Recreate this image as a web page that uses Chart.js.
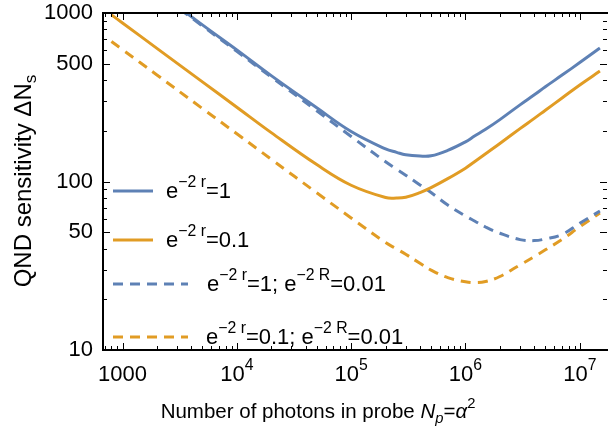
<!DOCTYPE html>
<html>
<head>
<meta charset="utf-8">
<script src="https://cdn.jsdelivr.net/npm/chart.js@4.4.1/dist/chart.umd.min.js"></script>
<style>
  html, body { margin: 0; padding: 0; background: #fff; }
  #wrap { width: 608px; height: 435px; }
</style>
</head>
<body>
<div id="wrap"><canvas id="myChart"></canvas></div>
<script>
// photons in probe N_p (x) and QND sensitivity (y)
const photons    = [800, 1000, 2000, 5000, 1e4, 2e4, 5e4, 1e5, 2e5, 2.5e5, 3e5, 4e5, 5e5, 7e5, 1e6, 1.2e6, 1.5e6, 2e6, 3e6, 4e6, 5e6, 7e6, 1e7, 1.5e7];
const sensR1     = [2136, 1910, 1351, 850, 604, 425, 274, 198, 156, 149, 144, 141.5, 142, 153, 172, 186, 204, 233, 285, 327, 365, 428, 508, 620];
const sensR01    = [975, 873, 617, 390, 276, 195, 126, 95, 80.3, 79.7, 80.6, 86, 92, 104, 120, 131, 146, 168, 206, 237, 265, 313, 374, 452];
const sensR1Big  = [2100, 1880, 1330, 838, 592, 417, 263, 185, 131, 118.4, 109, 95.4, 86, 72.5, 62.4, 58.3, 53.7, 49.3, 45.2, 44.6, 45.6, 48.5, 56.5, 66.8];
const sensR01Big = [678, 606, 429, 271, 192, 135.5, 85.7, 60.8, 43.4, 39.8, 37, 32.7, 29.8, 26.9, 25.4, 25.1, 25.5, 27.3, 32, 35.8, 39.3, 45.3, 53.9, 65];

const yMajor = [10, 50, 100, 500, 1000];
const yMinor = [20, 30, 40, 60, 70, 80, 90, 200, 300, 400, 600, 700, 800, 900];
const xMajor = [1000, 1e4, 1e5, 1e6, 1e7];
const xMajorExp = ['', '4', '5', '6', '7'];

const BLUE = '#5E81B5';
const ORANGE = '#E19C24';
const FONT = '"Liberation Sans", Arial, sans-serif';

function pts(vals) {
  return photons.map((n, i) => ({x: n, y: vals[i]}));
}

// draw a run of text pieces, some raised or lowered
function pieceFont(p, size) {
  let s = p.sup || p.sub ? size * 0.72 : size;
  return (p.it ? 'italic ' : '') + s.toFixed(1) + 'px ' + FONT;
}
function richText(ctx, parts, x, y, size) {
  for (const p of parts) {
    ctx.font = pieceFont(p, size);
    let dy = p.sup ? -size * 0.5 : (p.sub ? size * 0.22 : 0);
    ctx.fillText(p.t, x, y + dy);
    x += ctx.measureText(p.t).width;
  }
  return x;
}
function richWidth(ctx, parts, size) {
  let w = 0;
  for (const p of parts) {
    ctx.font = pieceFont(p, size);
    w += ctx.measureText(p.t).width;
  }
  return w;
}

const legendItems = [
  {color: BLUE, dash: [], len: 40, tx: 166, y: 191,
   parts: [{t: 'e'}, {t: '\u22122 r', sup: true}, {t: '=1'}]},
  {color: ORANGE, dash: [], len: 40, tx: 166, y: 240,
   parts: [{t: 'e'}, {t: '\u22122 r', sup: true}, {t: '=0.1'}]},
  {color: BLUE, dash: [10, 7], len: 75, tx: 207, y: 284,
   parts: [{t: 'e'}, {t: '\u22122 r', sup: true}, {t: '=1; e'}, {t: '\u22122 R', sup: true}, {t: '=0.01'}]},
  {color: ORANGE, dash: [10, 7], len: 75, tx: 206, y: 337,
   parts: [{t: 'e'}, {t: '\u22122 r', sup: true}, {t: '=0.1; e'}, {t: '\u22122 R', sup: true}, {t: '=0.01'}]}
];

const framePlugin = {
  id: 'frame',
  afterDraw(chart) {
    const {ctx, chartArea: a, scales: {x, y}} = chart;
    ctx.save();
    ctx.fillStyle = '#000';
    ctx.strokeStyle = '#000';

    // frame ticks, pointing inward on all four sides
    ctx.lineWidth = 1;
    ctx.beginPath();
    const yTicks = yMajor.map(v => [v, 7]).concat(yMinor.map(v => [v, 4]));
    for (const [v, len] of yTicks) {
      const py = Math.round(y.getPixelForValue(v)) + 0.5;
      ctx.moveTo(a.left, py); ctx.lineTo(a.left + len, py);
      ctx.moveTo(a.right, py); ctx.lineTo(a.right - len, py);
    }
    const xTicks = [];
    for (let d = 100; d <= 1e7; d *= 10) {
      for (let k = 1; k <= 9; k++) {
        const v = d * k;
        if (v < x.min || v > x.max) continue;
        xTicks.push([v, k === 1 && d >= 1000 ? 7 : 4]);
      }
    }
    for (const [v, len] of xTicks) {
      const px = Math.round(x.getPixelForValue(v)) + 0.5;
      ctx.moveTo(px, a.bottom); ctx.lineTo(px, a.bottom - len);
      ctx.moveTo(px, a.top); ctx.lineTo(px, a.top + len);
    }
    ctx.stroke();

    // frame lines
    ctx.lineWidth = 2;
    ctx.beginPath();
    ctx.moveTo(a.right + 2, a.top); ctx.lineTo(a.left, a.top);
    ctx.lineTo(a.left, a.bottom); ctx.lineTo(a.right + 2, a.bottom);
    ctx.stroke();

    // y tick labels
    ctx.font = '22px ' + FONT;
    ctx.textAlign = 'right';
    ctx.textBaseline = 'middle';
    for (const v of yMajor) {
      ctx.fillText(String(v), 93, y.getPixelForValue(v));
    }

    // x tick labels with powers of ten
    ctx.textAlign = 'left';
    ctx.textBaseline = 'alphabetic';
    xMajor.forEach((v, i) => {
      const parts = xMajorExp[i] ? [{t: '10'}, {t: xMajorExp[i], sup: true}] : [{t: '1000'}];
      const w = richWidth(ctx, parts, 22);
      richText(ctx, parts, x.getPixelForValue(v) - w / 2, 381, 22);
    });

    // axis titles
    const xTitle = [{t: 'Number of photons in probe '}, {t: 'N', it: true}, {t: 'p', it: true, sub: true},
                    {t: '='}, {t: '\u03B1', it: true}, {t: '2', sup: true}];
    const xw = richWidth(ctx, xTitle, 20.5);
    richText(ctx, xTitle, 318 - xw / 2, 418, 20.5);

    const yTitle = [{t: 'QND sensitivity \u0394N'}, {t: 's', sub: true}];
    const yw = richWidth(ctx, yTitle, 24);
    ctx.translate(31, 181);
    ctx.rotate(-Math.PI / 2);
    richText(ctx, yTitle, -yw / 2, 0, 24);
    ctx.setTransform(1, 0, 0, 1, 0, 0);
    ctx.restore();

    // legend inside the plot
    ctx.save();
    for (const it of legendItems) {
      ctx.strokeStyle = it.color;
      ctx.lineWidth = 3;
      ctx.setLineDash(it.dash);
      ctx.beginPath();
      ctx.moveTo(113, it.y); ctx.lineTo(113 + it.len, it.y);
      ctx.stroke();
      ctx.setLineDash([]);
      ctx.fillStyle = '#000';
      richText(ctx, it.parts, it.tx, it.y + 7, 22);
    }
    ctx.restore();
  }
};

function series(label, vals, color, dash) {
  return {
    label: label,
    data: pts(vals),
    borderColor: color,
    borderWidth: 3,
    borderDash: dash,
    pointRadius: 0,
    fill: false,
    tension: 0.4,
    clip: 0
  };
}

const data = {
  datasets: [
    series('e-2r=1', sensR1, BLUE, []),
    series('e-2r=0.1', sensR01, ORANGE, []),
    series('e-2r=1; e-2R=0.01', sensR1Big, BLUE, [10, 7]),
    series('e-2r=0.1; e-2R=0.01', sensR01Big, ORANGE, [10, 7])
  ]
};

const config = {
  type: 'line',
  data: data,
  options: {
    responsive: false,
    animation: false,
    devicePixelRatio: 1,
    layout: { padding: { left: 103, right: 1, top: 13, bottom: 85 } },
    plugins: { legend: { display: false }, tooltip: { enabled: false } },
    scales: {
      x: { type: 'logarithmic', min: 675, max: 1.73e7, display: false },
      y: { type: 'logarithmic', min: 10, max: 1000, display: false }
    }
  },
  plugins: [framePlugin]
};

const canvas = document.getElementById('myChart');
canvas.width = 608;
canvas.height = 435;
const myChart = new Chart(canvas, config);
</script>
</body>
</html>
